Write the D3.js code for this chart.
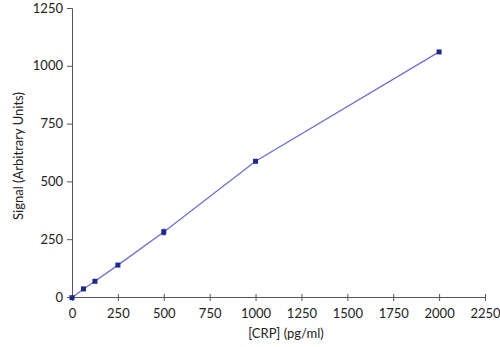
<!DOCTYPE html>
<html>
<head>
<meta charset="utf-8">
<script src="https://cdn.jsdelivr.net/npm/d3@7"></script>
<style>
  body { margin: 0; background: #fff; }
  text { font-family: "Lato", "DejaVu Sans", sans-serif; fill: #222; }
</style>
</head>
<body>
<svg id="chart"></svg>
<script>
// Chart size
const width = 500, height = 347;
const margin = { left: 72, right: 15, top: 8, bottom: 50 };

// Data
const concentrations = [0, 62.5, 125, 250, 500, 1000, 2000];
const signals = [-3, 35, 68, 138, 281, 587, 1060];
const errors = [0, 0, 0, 0, 12, 0, 0];
const xTicks = [0, 250, 500, 750, 1000, 1250, 1500, 1750, 2000, 2250];
const yTicks = [0, 250, 500, 750, 1000, 1250];

const points = concentrations.map((c, i) => ({ x: c, y: signals[i], e: errors[i] }));

const svg = d3.select("#chart")
    .attr("width", width)
    .attr("height", height);

const x = d3.scaleLinear().domain([0, 2250]).range([margin.left, width - margin.right]);
const y = d3.scaleLinear().domain([0, 1250]).range([height - margin.bottom, margin.top]);

// Y axis
const yAxis = svg.append("g")
    .attr("transform", `translate(${margin.left},0)`)
    .call(d3.axisLeft(y).tickValues(yTicks).tickSize(5).tickPadding(4).tickFormat(d3.format("d")));
yAxis.select(".domain").attr("stroke", "#555");
yAxis.selectAll(".tick line").attr("stroke", "#555");
yAxis.selectAll("text").attr("font-size", 13).style("fill", "#222");

// X axis (ticks cross the axis line)
const xAxis = svg.append("g")
    .attr("transform", `translate(0,${height - margin.bottom})`)
    .call(d3.axisBottom(x).tickValues(xTicks).tickSize(4).tickPadding(8).tickFormat(d3.format("d")));
xAxis.select(".domain").attr("stroke", "#555");
xAxis.selectAll(".tick line").attr("stroke", "#555").attr("y1", -3);
xAxis.selectAll("text").attr("font-size", 13).style("fill", "#222");

// Axis titles
svg.append("text")
    .attr("x", 286)
    .attr("y", height - 9)
    .attr("text-anchor", "middle")
    .attr("font-size", 13)
    .text("[CRP] (pg/ml)");

svg.append("text")
    .attr("transform", `translate(23,156) rotate(-90)`)
    .attr("text-anchor", "middle")
    .attr("font-size", 13)
    .text("Signal (Arbitrary Units)");

// Line through points
svg.append("path")
    .datum(points)
    .attr("fill", "none")
    .attr("stroke", "#6f6fd0")
    .attr("stroke-width", 1.3)
    .attr("d", d3.line().x(d => x(d.x)).y(d => y(d.y)));

// Error bars
svg.selectAll(".err")
    .data(points.filter(d => d.e > 0))
    .enter()
    .append("path")
    .attr("class", "err")
    .attr("fill", "none")
    .attr("stroke", "#3a3f95")
    .attr("stroke-width", 1)
    .attr("d", d => {
        const cx = x(d.x), t = y(d.y + d.e), b = y(d.y - d.e);
        return `M${cx - 2},${t}H${cx + 2}M${cx},${t}V${b}M${cx - 2},${b}H${cx + 2}`;
    });

// Square markers
svg.selectAll(".pt")
    .data(points)
    .enter()
    .append("rect")
    .attr("class", "pt")
    .attr("x", d => x(d.x) - 2.5)
    .attr("y", d => y(d.y) - 2.5)
    .attr("width", 5)
    .attr("height", 5)
    .attr("fill", "#1c2a8c");
</script>
</body>
</html>
